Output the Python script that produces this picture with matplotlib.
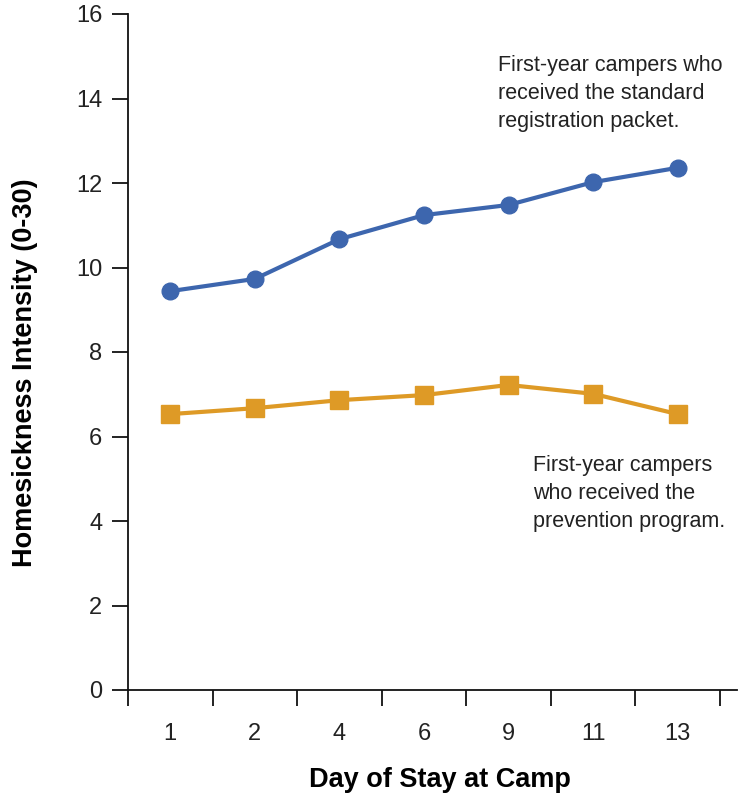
import numpy as np
import matplotlib.pyplot as plt
from matplotlib.ticker import FixedLocator

days = ["1", "2", "4", "6", "9", "11", "13"]
standard_packet = [9.44, 9.73, 10.67, 11.24, 11.48, 12.02, 12.36]
prevention_program = [6.53, 6.67, 6.86, 6.98, 7.22, 7.01, 6.53]

blue = "#3d66ae"
orange = "#de9a26"

plt.rcParams['font.family'] = ['Liberation Sans', 'DejaVu Sans']

fig = plt.figure(figsize=(7.43, 7.95), dpi=100)
ax = fig.add_axes([128/743, 105/795, (737-128)/743, (690-14)/795])

x = np.arange(len(days))
ax.plot(x, standard_packet, color=blue, lw=3, marker='o', ms=12, clip_on=False, zorder=3)
ax.plot(x, prevention_program, color=orange, lw=3, marker='s', ms=13, clip_on=False, zorder=3)

ax.set_xlim(-0.5, 6.5 + 17/84.5)
ax.set_ylim(0, 16)

ax.spines['top'].set_visible(False)
ax.spines['right'].set_visible(False)
for s in ['left', 'bottom']:
    ax.spines[s].set_linewidth(1.3)
    ax.spines[s].set_color('#111111')

ax.set_xticks(x)
ax.set_xticklabels(days)
ax.xaxis.set_minor_locator(FixedLocator(np.arange(-0.5, 7, 1)))
ax.tick_params(axis='x', which='major', length=0, pad=24, labelsize=17, labelcolor='#222222')
ax.tick_params(axis='x', which='minor', length=11.5, width=1.3, direction='out', color='#111111')

ax.set_yticks(np.arange(0, 17, 2))
ax.tick_params(axis='y', which='major', length=11.5, width=1.3, pad=7, labelsize=17,
               color='#111111', labelcolor='#222222')

ax.set_ylabel("Homesickness Intensity (0-30)", fontsize=19.5, fontweight='bold', va='center')
ax.yaxis.set_label_coords(-0.169, 0.470)
ax.set_xlabel("Day of Stay at Camp", fontsize=19.5, fontweight='bold', va='center')
ax.xaxis.set_label_coords(0.513, -0.133)

fig.text(498/743, 1 - 55/795, "First-year campers who\nreceived the standard\nregistration packet.",
         fontsize=15.5, va='top', ha='left', linespacing=1.45, color='#222222')
fig.text(533/743, 1 - 455/795, "First-year campers\nwho received the\nprevention program.",
         fontsize=15.5, va='top', ha='left', linespacing=1.45, color='#222222')

fig.savefig("out.png", dpi=100)
